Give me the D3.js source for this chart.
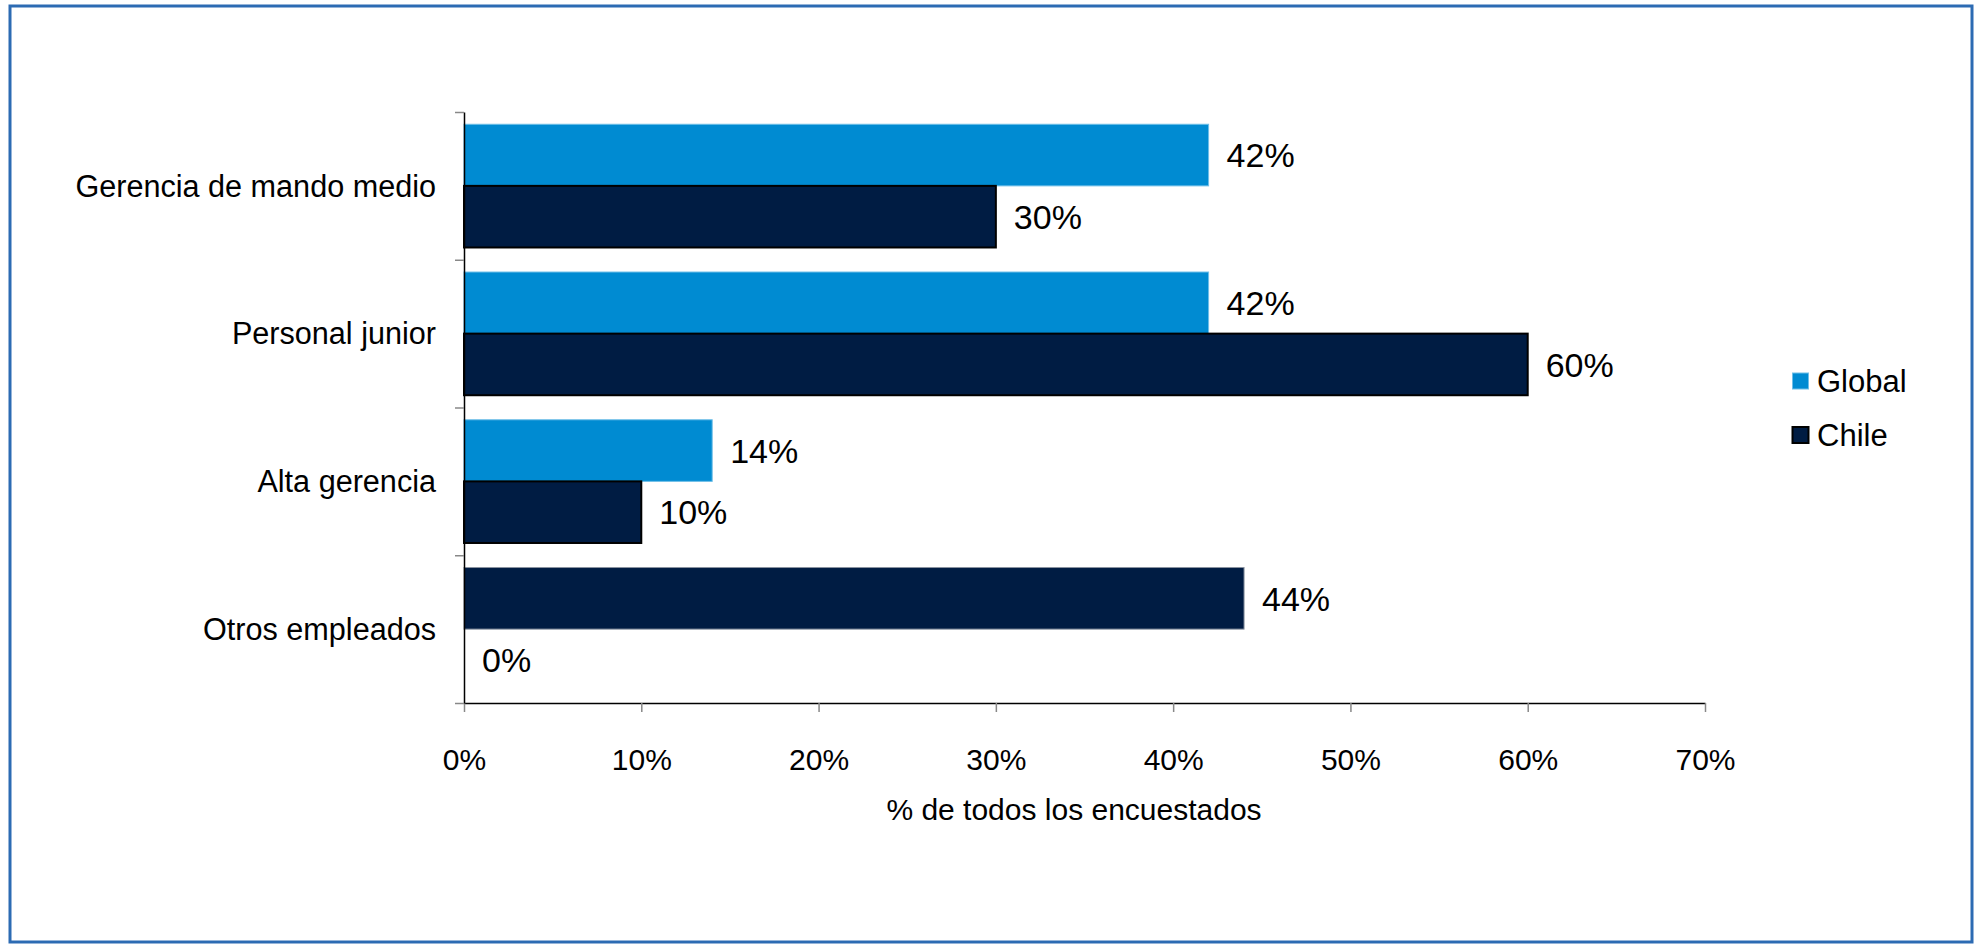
<!DOCTYPE html>
<html>
<head>
<meta charset="utf-8">
<script src="https://cdn.jsdelivr.net/npm/d3@7"></script>
<style>
  html, body { margin: 0; padding: 0; background: #fff; }
  svg { display: block; font-family: "Liberation Sans", Arial, sans-serif; }
</style>
</head>
<body>
<svg id="chart" width="1979" height="944"></svg>
<script>
const categories = ["Gerencia de mando medio", "Personal junior", "Alta gerencia", "Otros empleados"];
const seriesNames = ["Global", "Chile"];
const globalValues = [0.42, 0.42, 0.14, 0.44];
const chileValues = [0.30, 0.60, 0.10, 0.00];
const xTicks = [0, 0.1, 0.2, 0.3, 0.4, 0.5, 0.6, 0.7];
const xTitle = "% de todos los encuestados";

(function () {
const colors = { Global: "#008BD2", Chile: "#001C43" };
const strokes = { Global: "#6fbfe8", Chile: "#000000" };

const svg = d3.select("#chart");

// frame
svg.append("rect")
  .attr("x", 10).attr("y", 6).attr("width", 1962).attr("height", 936)
  .attr("fill", "#fff").attr("stroke", "#2C6BB3").attr("stroke-width", 3);

const pLeft = 464, pRight = 1705, pTop = 112, pBottom = 703;

const x = d3.scaleLinear().domain([0, 0.7]).range([pLeft, pRight]);
const y = d3.scaleBand().domain(categories).range([pTop, pBottom])
  .paddingInner(0.166).paddingOuter(0.083);
const ySub = d3.scaleBand().domain(seriesNames).range([0, y.bandwidth()]);

const rows = categories.map((c, i) => ({ cat: c, Global: globalValues[i], Chile: chileValues[i] }));

// bars
rows.forEach(r => {
  seriesNames.forEach(s => {
    const v = r[s];
    let fill = colors[s], stroke = strokes[s], sw = s === "Chile" ? 2 : 1;
    if (r.cat === "Otros empleados" && s === "Global") { fill = colors.Chile; stroke = "#8a93a0"; sw = 1; }
    if (v > 0) {
      svg.append("rect")
        .attr("x", x(0))
        .attr("y", y(r.cat) + ySub(s))
        .attr("width", x(v) - x(0))
        .attr("height", ySub.bandwidth())
        .attr("fill", fill)
        .attr("stroke", stroke)
        .attr("stroke-width", sw);
    }
    svg.append("text")
      .attr("x", x(v) + 18)
      .attr("y", y(r.cat) + ySub(s) + ySub.bandwidth() / 2)
      .attr("dy", "0.36em")
      .attr("font-size", 34)
      .attr("fill", "#000")
      .text(d3.format(".0%")(v));
  });
});

// x axis
const xAxis = svg.append("g")
  .attr("transform", `translate(0,${pBottom})`)
  .call(d3.axisBottom(x).tickValues(xTicks).tickFormat(d3.format(".0%")).tickSize(9).tickSizeOuter(0).tickPadding(0));
xAxis.select(".domain").attr("stroke", "#000").attr("stroke-width", 1.5);
xAxis.selectAll(".tick line").attr("stroke", "#888").attr("stroke-width", 1.5);
xAxis.selectAll(".tick text")
  .attr("font-size", 30).attr("font-family", "Liberation Sans, Arial, sans-serif")
  .attr("fill", "#000").attr("y", 67).attr("dy", 0);

// y axis (boundaries)
const yB = d3.scaleLinear().domain([0, categories.length]).range([pTop, pBottom]);
const yAxis = svg.append("g")
  .attr("transform", `translate(${pLeft},0)`)
  .call(d3.axisLeft(yB).tickValues(d3.range(categories.length + 1)).tickFormat("").tickSize(9).tickSizeOuter(0));
yAxis.select(".domain").attr("stroke", "#000").attr("stroke-width", 1.5);
yAxis.selectAll(".tick line").attr("stroke", "#888").attr("stroke-width", 1.5);

// category labels
svg.selectAll(".cat").data(categories).enter().append("text")
  .attr("x", 436)
  .attr("y", d => y(d) + y.bandwidth() / 2)
  .attr("dy", "0.35em")
  .attr("text-anchor", "end")
  .attr("font-size", 30.6)
  .attr("fill", "#000")
  .text(d => d);

// x title
svg.append("text")
  .attr("x", 1074).attr("y", 820)
  .attr("text-anchor", "middle")
  .attr("font-size", 30)
  .attr("fill", "#000")
  .text(xTitle);

// legend
const legendY = [373, 427];
seriesNames.forEach((s, i) => {
  svg.append("rect")
    .attr("x", 1792.5).attr("y", legendY[i]).attr("width", 16).attr("height", 16)
    .attr("fill", colors[s])
    .attr("stroke", s === "Chile" ? "#000" : "#6fbfe8")
    .attr("stroke-width", s === "Chile" ? 2 : 1);
  svg.append("text")
    .attr("x", 1817).attr("y", legendY[i] + 19)
    .attr("font-size", 31)
    .attr("fill", "#000")
    .text(s);
});
})();
</script>
</body>
</html>
